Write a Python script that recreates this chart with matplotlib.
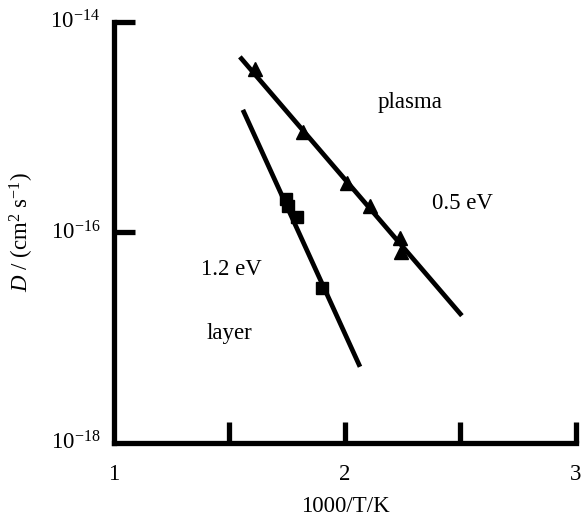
import matplotlib
matplotlib.use("Agg")
import matplotlib.pyplot as plt
from matplotlib.ticker import FixedLocator, NullLocator

plt.rcParams['font.family'] = ['Liberation Serif', 'DejaVu Serif']
plt.rcParams['mathtext.fontset'] = 'custom'
plt.rcParams['mathtext.rm'] = 'Liberation Serif'
plt.rcParams['mathtext.it'] = 'Liberation Serif:italic'

# Data (1000/T, D in cm^2/s)
plasma_x = [1.61, 1.818, 2.009, 2.108, 2.236, 2.242]
plasma_y = [3.6e-15, 8.9e-16, 2.95e-16, 1.78e-16, 8.9e-17, 6.5e-17]
plasma_fit_x = [1.545, 2.506]
plasma_fit_y = [4.65e-15, 1.62e-17]

layer_x = [1.745, 1.752, 1.792, 1.900]
layer_y = [2.1e-16, 1.8e-16, 1.4e-16, 2.95e-17]
layer_fit_x = [1.558, 2.065]
layer_fit_y = [1.46e-15, 5.3e-18]

xticks = [1.5, 2.0, 2.5, 3.0]
xlabels_pos = [1, 2, 3]
yticks = [1e-14, 1e-16]

fig = plt.figure(figsize=(5.83, 5.2), dpi=100)
ax = fig.add_axes([0.1955, 0.148, 0.7925, 0.81])
ax.set_yscale('log')
ax.set_xlim(1, 3)
ax.set_ylim(1e-18, 1e-14)

ax.plot(plasma_fit_x, plasma_fit_y, color='black', lw=3.4, solid_capstyle='butt')
ax.plot(layer_fit_x, layer_fit_y, color='black', lw=3.4, solid_capstyle='butt')
ax.plot(plasma_x, plasma_y, linestyle='none', marker='^', ms=10, color='black')
ax.plot(layer_x, layer_y, linestyle='none', marker='s', ms=9, color='black')

for s in ['top', 'right']:
    ax.spines[s].set_visible(False)
for s in ['left', 'bottom']:
    ax.spines[s].set_linewidth(3.8)

ax.xaxis.set_major_locator(FixedLocator(xticks))
ax.xaxis.set_minor_locator(NullLocator())
ax.yaxis.set_major_locator(FixedLocator(yticks))
ax.yaxis.set_minor_locator(NullLocator())
ax.tick_params(axis='both', which='major', direction='in', length=15, width=3.8,
               labelbottom=False, labelleft=False)
for t in ax.xaxis.get_major_ticks() + ax.yaxis.get_major_ticks():
    t.tick1line.set_clip_on(False)

fs = 16.5
for xv in xlabels_pos:
    ax.text(xv, -0.05, str(xv), transform=ax.get_xaxis_transform(), ha='center', va='top', fontsize=fs)
for yv, lab in [(1e-14, r'$10^{-14}$'), (1e-16, r'$10^{-16}$'), (1e-18, r'$10^{-18}$')]:
    ax.text(-0.03, yv, lab, transform=ax.get_yaxis_transform(), ha='right', va='center', fontsize=fs)

ax.text(2.0, -0.125, '1000/T/K', transform=ax.get_xaxis_transform(), ha='center', va='top', fontsize=fs)
ax.text(-0.2, 0.5, r'$D$ / (cm$^2$ s$^{-1}$)', transform=ax.transAxes, rotation=90,
        ha='center', va='center', fontsize=fs)

ax.text(2.28, 1.7e-15, 'plasma', ha='center', va='center', fontsize=fs)
ax.text(2.51, 1.9e-16, '0.5 eV', ha='center', va='center', fontsize=fs)
ax.text(1.51, 4.4e-17, '1.2 eV', ha='center', va='center', fontsize=fs)
ax.text(1.50, 1.1e-17, 'layer', ha='center', va='center', fontsize=fs)

fig.savefig('out.png', dpi=100)
